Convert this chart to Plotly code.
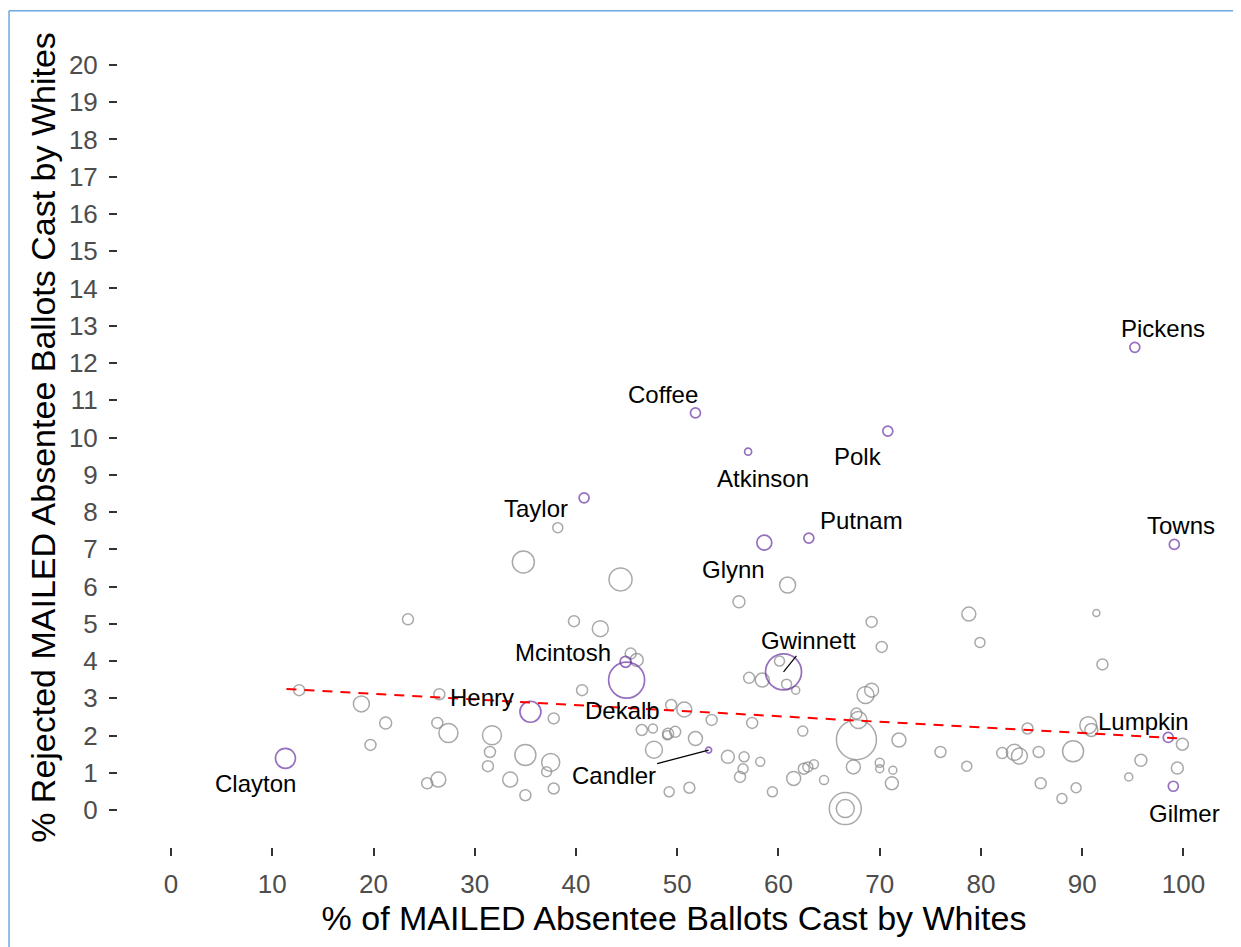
import plotly.graph_objects as go

# ---- Data ----
gray_x = [34.8, 23.4, 12.65, 18.8, 21.2, 19.7, 26.5, 26.3, 27.4, 31.7, 31.5, 31.3, 25.3, 26.4, 33.5,
          35.0, 35.0, 37.5, 37.1, 37.8, 37.8, 38.2, 44.4, 60.9, 56.1, 39.8, 42.4, 69.2, 70.2, 45.4,
          46.0, 40.6, 49.4, 50.7, 53.4, 57.4, 46.5, 47.6, 49.1, 49.8, 49.0, 51.8, 47.7, 55.0, 56.6,
          58.2, 56.5, 56.2, 49.2, 51.2, 59.4, 61.5, 62.5, 63.5, 62.9, 64.5, 67.4, 70.0, 70.0, 71.3,
          71.2, 66.6, 66.6, 67.7, 67.9, 67.7, 68.6, 69.2, 71.9, 62.4, 57.1, 58.4, 60.1, 60.8, 61.7,
          78.8, 79.9, 91.4, 92.0, 76.0, 78.6, 84.6, 82.1, 83.3, 83.8, 85.7, 89.1, 85.9, 88.0, 89.4,
          90.6, 90.9, 99.9, 95.8, 94.6, 99.4]
gray_y = [6.66, 5.12, 3.22, 2.85, 2.34, 1.75, 3.11, 2.34, 2.07, 2.01, 1.56, 1.18, 0.72, 0.82, 0.82,
          0.40, 1.48, 1.28, 1.03, 0.58, 2.46, 7.58, 6.19, 6.04, 5.59, 5.07, 4.87, 5.05, 4.38, 4.20,
          4.03, 3.22, 2.82, 2.70, 2.42, 2.34, 2.15, 2.19, 2.05, 2.10, 2.01, 1.92, 1.62, 1.43, 1.43,
          1.30, 1.11, 0.89, 0.49, 0.60, 0.49, 0.85, 1.11, 1.23, 1.16, 0.81, 1.16, 1.27, 1.11, 1.07,
          0.72, 0.04, 0.04, 1.89, 2.42, 2.59, 3.09, 3.22, 1.88, 2.12, 3.55, 3.49, 4.00, 3.38, 3.22,
          5.26, 4.50, 5.29, 3.91, 1.56, 1.18, 2.19, 1.53, 1.55, 1.45, 1.56, 1.58, 0.72, 0.31, 0.60,
          2.28, 2.15, 1.77, 1.34, 0.89, 1.13]
gray_size = [22, 11, 11, 16, 12, 11, 11, 11, 19, 19, 11, 11, 11, 15, 15,
             11, 21, 18, 10, 11, 11, 10, 23, 16, 12, 11, 16, 11, 11, 11,
             13, 11, 11, 15, 11, 11, 11, 9, 11, 11, 9, 14, 17, 13, 10,
             9, 10, 11, 10, 11, 10, 14, 11, 9, 10, 9, 14, 9, 8, 8,
             13, 32, 18, 40, 17, 11, 17, 14, 14, 10, 11, 14, 10, 10, 8,
             14, 10, 7, 11, 11, 10, 11, 11, 16, 16, 11, 21, 11, 10, 10,
             17, 13, 12, 12, 8, 12]

counties = ["Clayton", "Henry", "Mcintosh", "Dekalb", "Candler", "Gwinnett", "Glynn", "Putnam",
            "Taylor", "Atkinson", "Coffee", "Polk", "Pickens", "Towns", "Lumpkin", "Gilmer"]
county_x = [11.3, 35.5, 44.9, 45.0, 53.1, 60.5, 58.6, 63.0, 40.8, 57.0, 51.8, 70.8, 95.2, 99.1, 98.5, 99.0]
county_y = [1.39, 2.64, 3.98, 3.49, 1.61, 3.71, 7.18, 7.30, 8.38, 9.62, 10.66, 10.17, 12.42, 7.13, 1.95, 0.64]
county_size = [20, 21, 11, 36, 6, 36, 15, 10, 10, 7, 10, 10, 10, 10, 10, 10]

trend_x = [11.4, 99.9]
trend_y = [3.25, 1.92]

x_ticks = list(range(0, 101, 10))
y_ticks = list(range(0, 21, 1))

# ---- Styling / layout (label offsets in pixels) ----
label_offsets = {
    "Clayton": (-30, 25), "Henry": (-48, -14), "Mcintosh": (-63, -9), "Dekalb": (-4, 30),
    "Candler": (-95, 25), "Gwinnett": (25, -31), "Glynn": (-31, 27), "Putnam": (53, -18),
    "Taylor": (-48, 11), "Atkinson": (15, 27), "Coffee": (-32, -18), "Polk": (-30, 25),
    "Pickens": (28, -19), "Towns": (7, -19), "Lumpkin": (-25, -16), "Gilmer": (11, 27),
}
leader = {"Candler", "Gwinnett"}

GRAY = "#858585"
PURPLE = "#6a33a3"
FONT = "Liberation Sans, Arial, sans-serif"

fig = go.Figure()
fig.add_trace(go.Scatter(
    x=gray_x, y=gray_y, mode="markers",
    marker=dict(symbol="circle-open", size=gray_size, color=GRAY, line=dict(width=1.5, color=GRAY)),
    showlegend=False, hoverinfo="skip"))
fig.add_trace(go.Scatter(
    x=county_x, y=county_y, mode="markers", text=counties,
    marker=dict(symbol="circle-open", size=county_size, color=PURPLE, line=dict(width=1.7, color=PURPLE)),
    showlegend=False))
fig.add_trace(go.Scatter(
    x=trend_x, y=trend_y, mode="lines",
    line=dict(color="#ff0000", width=2, dash="10px,8px"),
    showlegend=False, hoverinfo="skip"))

annotations = []
for name, xv, yv in zip(counties, county_x, county_y):
    dx, dy = label_offsets[name]
    if name in leader:
        annotations.append(dict(
            x=xv, y=yv, xref="x", yref="y", text=name, showarrow=True,
            ax=dx, ay=dy, arrowhead=0, arrowwidth=1.2, arrowcolor="#000000", standoff=0,
            font=dict(family=FONT, size=24, color="#000000")))
    else:
        annotations.append(dict(
            x=xv, y=yv, xref="x", yref="y", text=name, showarrow=False,
            xshift=dx, yshift=-dy,
            font=dict(family=FONT, size=24, color="#000000")))

fig.update_layout(
    width=1233, height=939,
    paper_bgcolor="white", plot_bgcolor="white",
    margin=dict(l=110, r=11, t=20, b=100),
    font=dict(family=FONT),
    annotations=annotations,
    shapes=[
        dict(type="line", xref="paper", yref="paper", x0=-0.098, x1=1.02, y0=1.0211, y1=1.0211,
             line=dict(color="#6fa8dc", width=1.5)),
        dict(type="line", xref="paper", yref="paper", x0=-0.098, x1=-0.098, y0=-0.15, y1=1.0211,
             line=dict(color="#6fa8dc", width=1.5)),
    ],
    xaxis=dict(
        range=[-5.24, 104.6], tickvals=x_ticks, ticktext=[str(v) for v in x_ticks],
        showgrid=False, zeroline=False, showline=False,
        ticks="outside", ticklen=8, tickwidth=1.5, tickcolor="#333333",
        tickfont=dict(family=FONT, size=26, color="#4d4d4d"),
        ticklabelstandoff=6,
        title=dict(text="% of MAILED Absentee Ballots Cast by Whites",
                   font=dict(family=FONT, size=34, color="#000000"), standoff=4),
    ),
    yaxis=dict(
        range=[-0.99, 20.99], tickvals=y_ticks, ticktext=[str(v) for v in y_ticks],
        showgrid=False, zeroline=False, showline=False,
        ticks="outside", ticklen=8, tickwidth=1.5, tickcolor="#333333",
        tickfont=dict(family=FONT, size=26, color="#4d4d4d"),
        ticklabelstandoff=6,
        title=dict(text="% Rejected MAILED Absentee Ballots Cast by Whites",
                   font=dict(family=FONT, size=34, color="#000000"), standoff=2),
    ),
)

fig.write_html("out.html")
